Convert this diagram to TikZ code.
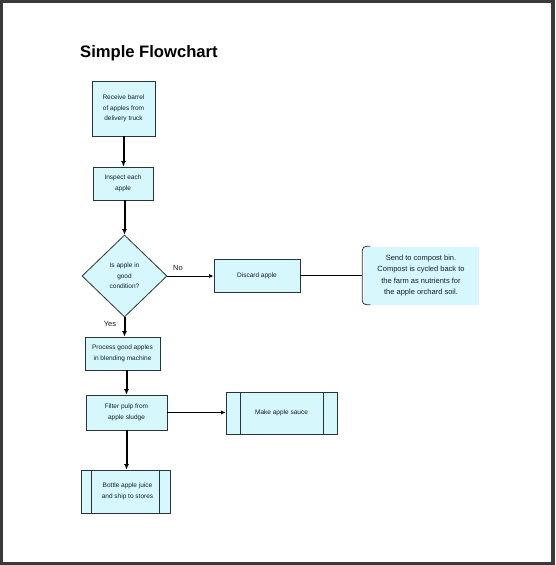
\documentclass[tikz,border=0pt]{standalone}
\usepackage{fontspec}
\setmainfont{Liberation Sans}
\usetikzlibrary{shapes.geometric,arrows.meta,calc}
\definecolor{boxfill}{RGB}{214,248,252}
\definecolor{boxline}{RGB}{40,52,58}
\definecolor{frame}{RGB}{58,58,58}
\definecolor{txt}{RGB}{20,30,45}
\tikzset{
  every node/.style={text=txt},
  procbox/.style={rectangle,fill=boxfill,draw=boxline,line width=0.8pt,inner sep=1pt,align=center,
    font=\fontsize{6.5}{10.5}\selectfont},
  decbox/.style={diamond,fill=boxfill,draw=boxline,line width=0.8pt,inner sep=0pt,align=center,
    minimum width=85pt,minimum height=82pt,font=\fontsize{6.5}{10.5}\selectfont},
  notebox/.style={rectangle,fill=boxfill,inner sep=1pt,align=center,minimum width=115pt,minimum height=58pt,
    font=\fontsize{7.5}{11.3}\selectfont},
  flow/.style={line width=2pt,-{Latex[length=5.5pt,width=5pt]}},
  sideflow/.style={line width=0.9pt,-{Latex[length=4.5pt,width=4pt]}},
  plain/.style={line width=0.9pt},
  lbl/.style={font=\fontsize{7.5}{9}\selectfont,inner sep=0pt},
}
\begin{document}
\begin{tikzpicture}[x=1pt,y=-1pt]
\fill[frame] (0,0) rectangle (555,565);
\fill[white] (3,3) rectangle (551,561.5);
\useasboundingbox (0,0) rectangle (555,565);

\node[font=\bfseries\fontsize{16.6}{18}\selectfont,text=black,anchor=west,inner sep=0pt] (title) at (80,53) {Simple Flowchart};

\node[procbox,minimum width=63pt,minimum height=55pt] (receive) at (123.5,108.5) {Receive barrel\\of apples from\\delivery truck};
\node[procbox,minimum width=60pt,minimum height=33pt] (inspect) at (123,183.5) {Inspect each\\apple};
\node[decbox] (cond) at (124.5,276) {Is apple in\\good\\condition?};
\node[procbox,minimum width=86pt,minimum height=33pt] (discard) at (257,275.5) {Discard apple};
\node[notebox] (note) at (421,275.5) {Send to compost bin.\\Compost is cycled back to\\the farm as nutrients for\\the apple orchard soil.};
\node[procbox,minimum width=75pt,minimum height=33pt] (process) at (122.5,353.5) {Process good apples\\in blending machine};
\node[procbox,minimum width=81pt,minimum height=35pt] (filter) at (126.5,412.5) {Filter pulp from\\apple sludge};
\node[procbox,minimum width=111pt,minimum height=42pt] (sauce) at (281.5,413) {Make apple sauce};
\node[procbox,minimum width=89pt,minimum height=43pt] (bottle) at (125.5,491.5) {\hspace*{4pt}Bottle apple juice\\\hspace*{4pt}and ship to stores};

\draw[boxline,line width=0.8pt] ($(sauce.north west)+(15,0)$) -- ($(sauce.south west)+(15,0)$);
\draw[boxline,line width=0.8pt] ($(sauce.north east)+(-14,0)$) -- ($(sauce.south east)+(-14,0)$);
\draw[boxline,line width=0.8pt] ($(bottle.north west)+(11,0)$) -- ($(bottle.south west)+(11,0)$);
\draw[boxline,line width=0.8pt] ($(bottle.north east)+(-11,0)$) -- ($(bottle.south east)+(-11,0)$);

\draw[boxline,line width=0.8pt,rounded corners=4pt] ($(note.north west)+(7,0)$) -- ($(note.north west)+(-1,0)$) -- ($(note.south west)+(-1,0)$) -- ($(note.south west)+(7,0)$);

\draw[flow] (receive.south) -- (receive.south |- inspect.north);
\draw[flow] (inspect.south -| cond.north) -- (cond.north);
\draw[sideflow] (cond.east) -- (cond.east -| discard.west);
\draw[plain] (discard.east) -- ($(note.west)+(-1,0)$);
\draw[flow] (cond.south) -- (cond.south |- process.north);
\draw[flow] (process.south -| filter.north) -- (filter.north);
\draw[sideflow] (filter.east) -- (filter.east -| sauce.west);
\draw[flow] (filter.south) -- (filter.south |- bottle.north);

\node[lbl] (no) at (178,268) {No};
\node[lbl] (yes) at (110,324) {Yes};
\end{tikzpicture}
\end{document}
